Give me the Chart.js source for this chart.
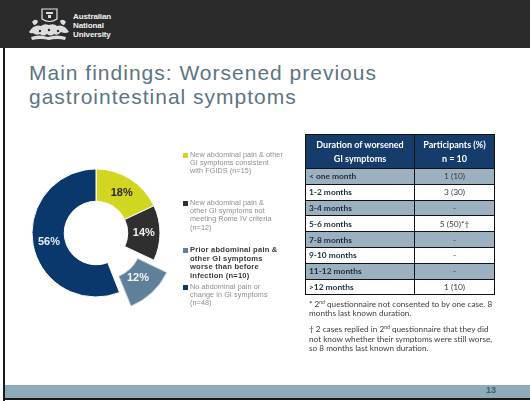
<!DOCTYPE html>
<html>
<head>
<meta charset="utf-8">
<script src="https://cdn.jsdelivr.net/npm/chart.js@4.4.0/dist/chart.umd.min.js"></script>
<style>
  html, body { margin: 0; padding: 0; background: #fff; }
  #slide { position: relative; width: 530px; height: 401px; overflow: hidden; background: #fff; font-family: "Liberation Sans", Arial, sans-serif; }
  #topbar { position: absolute; left: 0; top: 0; width: 530px; height: 48px; background: #2b2b2b; }
  #leftline { position: absolute; left: 3px; top: 48px; width: 2px; height: 353px; background: #1a1a1a; }
  #footbar { position: absolute; left: 5px; top: 385px; width: 525px; height: 13px; background: #8eabb9; }
  #footline { position: absolute; left: 3px; top: 398px; width: 527px; height: 2px; background: #1a1a1a; }
  #pageno { position: absolute; left: 486px; top: 385px; font: bold 9px "Liberation Sans", Arial, sans-serif; color: #4a5a64; }
  #logo { position: absolute; left: 28px; top: 7px; }
  .lg { position: absolute; left: 73px; color: #f2f2f2; font: bold 8px "Liberation Sans", Arial, sans-serif; line-height: 9px; height: 9px; letter-spacing: -0.1px; white-space: nowrap; }
  .tl { position: absolute; left: 29px; color: #5b7482; font: 21px "Liberation Sans", Arial, sans-serif; line-height: 23.5px; height: 23.5px; letter-spacing: 1px; white-space: nowrap; }
  #chartbox { position: absolute; left: 6px; top: 143px; width: 180px; height: 180px; }
  #legend { position: absolute; left: 183px; top: 151px; width: 120px; }
  .item { position: absolute; left: 0; width: 120px; }
  .sw { position: absolute; left: 0; top: 2px; width: 5px; height: 5px; }
  .txt { position: absolute; left: 7px; top: 0; white-space: nowrap; font: 7.2px "Liberation Sans", Arial, sans-serif; line-height: 8.2px; color: #8c8c8c; letter-spacing: 0.1px; }
  #tbl { position: absolute; left: 305px; top: 134px; border-collapse: collapse; font-family: Lato, "Liberation Sans", sans-serif; }
  #tbl td, #tbl th { border: 1.5px solid #111; padding: 0; }
  #tbl th { background: #163c6c; color: #fff; font-weight: 700; font-size: 9px; line-height: 14px; height: 33px; text-align: center; }
  #tbl td { height: 14.8px; font-size: 8.4px; line-height: 10px; }
  #tbl td.d { padding-left: 3px; font-weight: 700; color: #1c2b3d; width: 105px; }
  #tbl td.v { text-align: center; color: #3a3a3a; width: 79px; }
  #tbl tr.g td { background: #9bb1bf; }
  #notes { position: absolute; left: 309px; top: 300px; width: 215px; font: 8.2px Lato, "Liberation Sans", sans-serif; color: #3c3c3c; line-height: 9.2px; }
  #notes p { margin: 0 0 7px 0; white-space: nowrap; }
  sup { font-size: 5px; vertical-align: 3px; line-height: 0; }
</style>
</head>
<body>
<div id="slide">
  <div id="topbar"></div>
  <svg id="logo" width="42" height="36" viewBox="0 0 42 36">
    <g fill="none" stroke="#e6e6e6" stroke-width="1.2">
      <path d="M14 2 h15 v10 q-7.5 5 -15 0 z"/>
    </g>
    <g fill="#dcdcdc">
      <path d="M18 5 h7 v2 h-7 z"/>
      <path d="M20 8 h3 v3 h-3 z"/>
      <path d="M1 25 q5 -8 12 -6 q3 -3 8 -1 q5 -2 8 1 q7 -2 12 6 q-4 2 -8 0 q-3 4 -7 2 q-3 3 -7 0 q-4 3 -7 0 q-4 2 -7 -1 q-3 1 -4 -1 z"/>
      <path d="M3 30 q8 -3 17 0 q9 -3 18 0 l-1 3 q-8 -2 -16 0 q-8 -2 -17 0 z"/>
      <path d="M4 15 q3 -4 6 -1 q-1 4 -4 4 z"/>
      <path d="M38 15 q-3 -4 -6 -1 q1 4 4 4 z"/>
    </g>
    <g fill="#2b2b2b">
      <circle cx="12" cy="24" r="1.2"/>
      <circle cx="21" cy="23" r="1.2"/>
      <circle cx="30" cy="24" r="1.2"/>
    </g>
  </svg>
  <div class="lg" style="top:12px">Australian</div>
  <div class="lg" style="top:21px">National</div>
  <div class="lg" style="top:30px">University</div>
  <div class="tl" style="top:61px">Main findings: Worsened previous</div>
  <div class="tl" style="top:84.5px">gastrointestinal symptoms</div>
  <div id="leftline"></div>

  <div id="chartbox"><canvas id="donut" width="180" height="180"></canvas></div>
  <div id="legend"></div>

  <table id="tbl">
    <thead>
      <tr><th id="h1"></th><th id="h2"></th></tr>
    </thead>
    <tbody id="tbody"></tbody>
  </table>

  <div id="notes">
    <p>* 2<sup>nd</sup> questionnaire not consented to by one case. 8<br>months last known duration.</p>
    <p>† 2 cases replied in 2<sup>nd</sup> questionnaire that they did<br>not know whether their symptoms were still worse,<br>so 8 months last known duration.</p>
  </div>

  <div id="footbar"></div>
  <div id="footline"></div>
  <div id="pageno">13</div>
</div>

<script>
// Doughnut: share of participants by GI symptom group (percent of total)
const groupLegend = [
  ["New abdominal pain & other", "GI symptoms consistent", "with FGIDS (n=15)"],
  ["New abdominal pain &", "other GI symptoms not", "meeting Rome IV criteria", "(n=12)"],
  ["Prior abdominal pain &", "other GI symptoms", "worse than before", "infection (n=10)"],
  ["No abdominal pain or", "change in GI symptoms", "(n=48)"]
];
const groupPercent = [18, 14, 12, 56];
const groupColors = ["#d3d620", "#2f2f2f", "#5e809a", "#0a386c"];
const labelColors = ["#2a2a2a", "#f0f0f0", "#f4f4f4", "#e6eef8"];
const groupExplode = [0, 0, 54, 0];

// Table: duration of worsened GI symptoms among the 10 participants
const tableHeader = [["Duration of worsened", "GI symptoms"], ["Participants (%)", "n = 10"]];
const durationLabels = ["< one month", "1-2 months", "3-4 months", "5-6 months", "7-8 months", "9-10 months", "11-12 months", ">12 months"];
const durationValues = ["1 (10)", "3 (30)", "-", "5 (50)*†", "-", "-", "-", "1 (10)"];

// Table
document.getElementById('h1').innerHTML = tableHeader[0].join('<br>');
document.getElementById('h2').innerHTML = tableHeader[1].join('<br>');
const tbody = document.getElementById('tbody');
durationLabels.forEach((lab, i) => {
  const tr = document.createElement('tr');
  if (i % 2 === 0) tr.className = 'g';
  const a = document.createElement('td'); a.className = 'd'; a.textContent = lab;
  const b = document.createElement('td'); b.className = 'v'; b.textContent = durationValues[i];
  tr.appendChild(a); tr.appendChild(b); tbody.appendChild(tr);
});

// Legend beside the doughnut
const legendTops = [0, 48, 95, 132];
const legend = document.getElementById('legend');
groupLegend.forEach((lines, i) => {
  const it = document.createElement('div'); it.className = 'item'; it.style.top = legendTops[i] + 'px';
  const sw = document.createElement('div'); sw.className = 'sw'; sw.style.background = groupColors[i];
  const tx = document.createElement('div'); tx.className = 'txt'; tx.innerHTML = lines.join('<br>');
  if (i === 2) { tx.style.color = '#3a3a3a'; tx.style.fontWeight = 'bold'; tx.style.fontSize = '7.6px'; tx.style.lineHeight = '8.5px'; tx.style.letterSpacing = '0.2px'; }
  it.appendChild(sw); it.appendChild(tx); legend.appendChild(it);
});

// Percent labels inside each arc
const arcLabels = {
  id: 'arcLabels',
  afterDatasetsDraw(chart) {
    const ctx = chart.ctx;
    const meta = chart.getDatasetMeta(0);
    ctx.save();
    ctx.font = 'bold 11px "Liberation Sans", Arial, sans-serif';
    ctx.textAlign = 'center';
    ctx.textBaseline = 'middle';
    meta.data.forEach((arc, i) => {
      const p = arc.getProps(['x', 'y', 'startAngle', 'endAngle', 'innerRadius', 'outerRadius'], true);
      const mid = (p.startAngle + p.endAngle) / 2;
      const r = (p.innerRadius + p.outerRadius) / 2 + groupExplode[i] / 4;
      ctx.fillStyle = labelColors[i];
      ctx.fillText(groupPercent[i] + '%', p.x + Math.cos(mid) * r, p.y + Math.sin(mid) * r);
    });
    ctx.restore();
  }
};

new Chart(document.getElementById('donut'), {
  type: 'doughnut',
  data: {
    labels: groupLegend.map(l => l.join(' ')),
    datasets: [{
      data: groupPercent,
      backgroundColor: groupColors,
      borderColor: ['#ffffff', '#ffffff', '#c9d3da', '#ffffff'],
      borderWidth: 1,
      offset: groupExplode
    }]
  },
  options: {
    responsive: false,
    animation: false,
    radius: 64,
    cutout: 31,
    layout: { padding: 0 },
    plugins: { legend: { display: false }, tooltip: { enabled: false } }
  },
  plugins: [arcLabels]
});
</script>
</body>
</html>
